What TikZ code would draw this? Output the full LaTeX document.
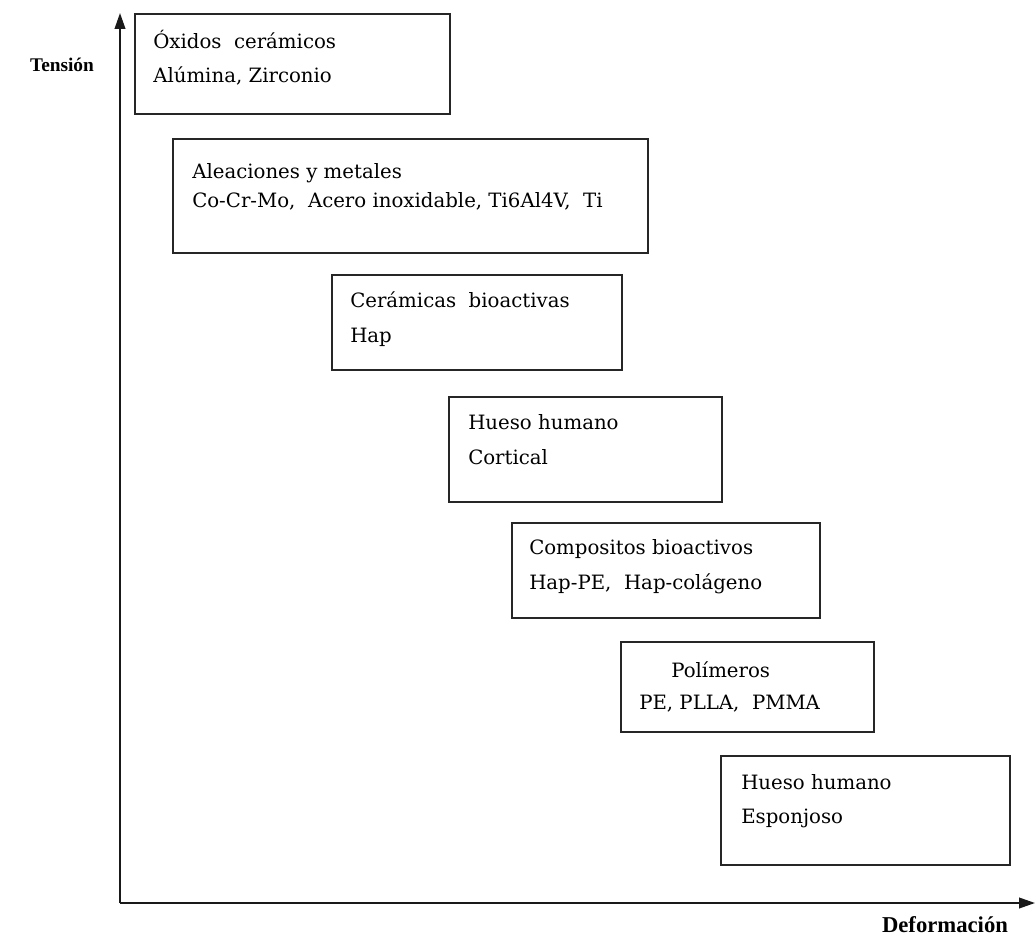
\documentclass[tikz,border=0pt]{standalone}
\usepackage{fontspec}
\setmainfont{DejaVu Serif}
\newfontfamily\labelfont{Liberation Serif}
\usetikzlibrary{arrows.meta}
\begin{document}
\begin{tikzpicture}[x=0.75pt,y=-0.75pt,
  box/.style={draw=black!85,line width=1.4pt,rectangle,inner sep=0pt},
  axis/.style={draw=black!90,line width=1.4pt,-{Triangle[length=12pt,width=8pt]}},
  txt/.style={anchor=base west,inner sep=0pt,font=\fontsize{14.8}{17}\selectfont},
  lab/.style={inner sep=0pt,font=\labelfont\bfseries}]
\useasboundingbox (0,0) rectangle (1035,937);
% axes
\coordinate (O) at (120,903);
\coordinate (ytip) at (120,13);
\coordinate (xtip) at (1035,903);
\draw[axis] (O) -- (ytip);
\draw[axis] (O) -- (xtip);
\node[lab,font=\labelfont\bfseries\fontsize{14.5}{16}\selectfont] (tension) at (62,65) {Tensión};
\node[lab,font=\labelfont\bfseries\fontsize{17}{20}\selectfont] (deform) at (945,925) {Deformación};
% boxes
\node[box,minimum width=315pt*0.75,minimum height=100pt*0.75] (b1) at (292.5,64) {};
\node[box,minimum width=475pt*0.75,minimum height=114pt*0.75] (b2) at (410.5,196) {};
\node[box,minimum width=290pt*0.75,minimum height=95pt*0.75] (b3) at (477,322.5) {};
\node[box,minimum width=273pt*0.75,minimum height=105pt*0.75] (b4) at (585.5,449.5) {};
\node[box,minimum width=308pt*0.75,minimum height=95pt*0.75] (b5) at (666,570.5) {};
\node[box,minimum width=253pt*0.75,minimum height=90pt*0.75] (b6) at (747.5,687) {};
\node[box,minimum width=289pt*0.75,minimum height=109pt*0.75] (b7) at (865.5,810.5) {};
% texts
\node[txt] (t1a) at (153,49) {Óxidos\ \ cerámicos};
\node[txt] (t1b) at (153,83) {Alúmina, Zirconio};
\node[txt] (t2a) at (192,179) {Aleaciones y metales};
\node[txt] (t2b) at (192,208) {Co-Cr-Mo,\ \ Acero inoxidable, Ti6Al4V,\ \ Ti};
\node[txt] (t3a) at (350,308) {Cerámicas\ \ bioactivas};
\node[txt] (t3b) at (350,343) {Hap};
\node[txt] (t4a) at (468,430) {Hueso humano};
\node[txt] (t4b) at (468,465) {Cortical};
\node[txt] (t5a) at (529,554) {Compositos bioactivos};
\node[txt] (t5b) at (529,589) {Hap-PE,\ \ Hap-colágeno};
\node[txt] (t6a) at (671,677) {Polímeros};
\node[txt] (t6b) at (639,709) {PE, PLLA,\ \ PMMA};
\node[txt] (t7a) at (741,789) {Hueso humano};
\node[txt] (t7b) at (741,823) {Esponjoso};
\end{tikzpicture}
\end{document}
